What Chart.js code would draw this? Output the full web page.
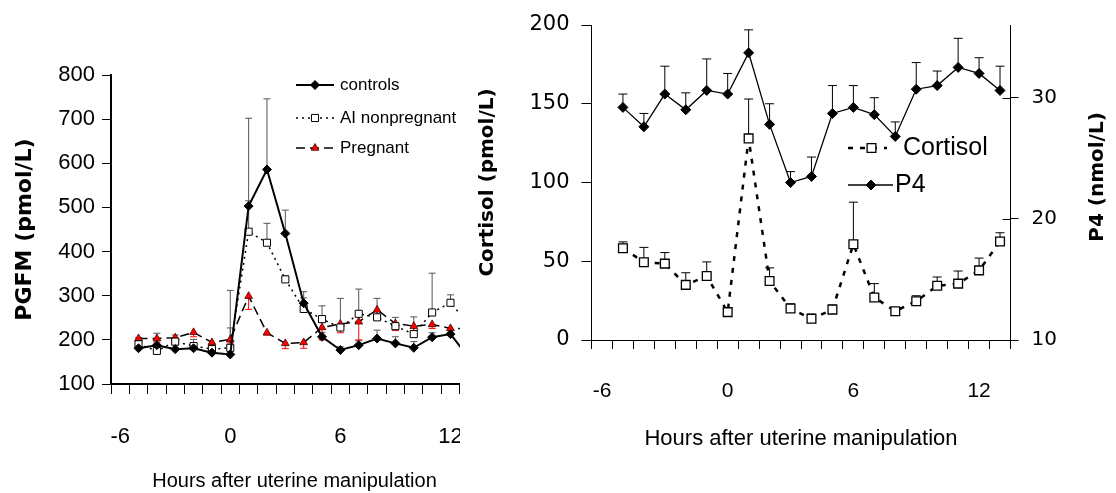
<!DOCTYPE html>
<html><head><meta charset="utf-8">
<script src="https://cdn.jsdelivr.net/npm/chart.js@4/dist/chart.umd.min.js"></script>
<style>
html,body{margin:0;padding:0;background:#fff;width:1116px;height:493px;overflow:hidden;}
#leftWrap{position:absolute;left:0;top:0;width:460px;height:493px;overflow:hidden;}
#leftWrap canvas{position:absolute;left:0;top:0;}
#right{position:absolute;left:460px;top:0;}
</style></head><body>
<div id="leftWrap"><canvas id="left" width="520" height="493"></canvas></div>
<canvas id="right" width="656" height="493"></canvas>
<script>
// ---- shared x categories (hours after uterine manipulation) ----
const hours = [-6,-5,-4,-3,-2,-1,0,1,2,3,4,5,6,7,8,9,10,11,12,13];
const xTickLabels = [-6,0,6,12];

// ---- left panel: PGFM (pmol/L) ----
const pgfmYTicks = [100,200,300,400,500,600,700,800];
const pgfmControls   = [null,181,188,179,181,171,167,503,586,441,283,207,177,188,203,192,182,206,213,160];
const pgfmControlsSE = [null,8,15,10,12,8,60,199,160,53,26,10,7,10,19,15,14,10,10,10];
const pgfmAI         = [null,190,175,196,186,179,182,445,420,337,270,247,228,259,251,231,213,262,284,235];
const pgfmAISE       = [null,15,40,15,15,12,130,70,44,8,25,30,66,56,43,20,39,89,18,10];
const pgfmPregnant   = [null,203,203,205,217,194,201,299,216,192,194,228,236,241,268,237,231,235,226,225];
const pgfmPregnantSE = [null,8,8,8,10,8,8,30,5,12,13,28,20,41,15,16,10,9,12,8];

// ---- right panel: Cortisol (pmol/L) and P4 (nmol/L) ----
const cortisolYTicks = [0,50,100,150,200];
const p4YTicks = [10,20,30];
const cortisol   = [null,58.3,49.4,48.5,35,40.6,17.7,128,37.5,20,13.5,19.3,60.8,27,18.3,24.6,34.4,35.8,44.2,62.5];
const cortisolSE = [null,4,9.4,7,7.7,9,2,25,8.3,3,3,3,26.7,8.8,1,3.5,5.6,8,7.8,5.6];
const p4   = [null,29.2,27.6,30.3,29.0,30.6,30.3,33.7,27.8,23.0,23.5,28.7,29.2,28.6,26.8,30.7,31.0,32.5,32.0,30.6];
const p4SE = [null,1.1,1.1,2.3,1.4,2.6,1.7,1.9,1.7,0.9,1.6,2.3,1.8,1.4,1.2,2.2,1.2,2.4,1.3,2.0];

Chart.defaults.color = '#000';
Chart.defaults.font.family = '"Liberation Sans", Arial, sans-serif';

const errorBarPlugin = {
  id: 'errorBars',
  beforeDatasetsDraw(chart) {
    const ctx = chart.ctx;
    chart.data.datasets.forEach((ds, di) => {
      if (!ds.errors) return;
      const meta = chart.getDatasetMeta(di);
      const yScale = chart.scales[meta.yAxisID];
      const cfg = ds.errorStyle;
      ctx.save();
      ctx.strokeStyle = cfg.color; ctx.lineWidth = cfg.width; ctx.setLineDash([]);
      ds.data.forEach((v, i) => {
        const e = ds.errors[i];
        if (v == null || e == null) return;
        const x = meta.data[i].x;
        const y0 = yScale.getPixelForValue(v);
        const y1 = yScale.getPixelForValue(v + cfg.dir * e);
        ctx.beginPath();
        ctx.moveTo(x, y0); ctx.lineTo(x, y1);
        ctx.moveTo(x - cfg.cap, y1); ctx.lineTo(x + cfg.cap, y1);
        ctx.stroke();
      });
      ctx.restore();
    });
  }
};

const lineLegendPlugin = {
  id: 'lineLegend',
  afterDatasetsDraw(chart, args, opts) {
    const ctx = chart.ctx;
    (opts.items || []).forEach(it => {
      const ds = chart.data.datasets[it.dataset];
      ctx.save();
      ctx.strokeStyle = ds.borderColor; ctx.lineWidth = ds.borderWidth;
      ctx.setLineDash(ds.borderDash || []);
      ctx.beginPath(); ctx.moveTo(it.x1, it.y); ctx.lineTo(it.x2, it.y); ctx.stroke();
      ctx.setLineDash([]);
      ctx.fillStyle = ds.pointBackgroundColor; ctx.strokeStyle = ds.pointBorderColor; ctx.lineWidth = ds.pointBorderWidth;
      Chart.helpers.drawPoint(ctx, {pointStyle: ds.pointStyle, radius: ds.pointRadius, rotation: 0, borderWidth: ds.pointBorderWidth}, it.mx, it.y);
      ctx.fillStyle = '#000'; ctx.font = opts.font; ctx.textBaseline = 'middle'; ctx.textAlign = 'left';
      ctx.fillText(ds.label, it.tx, it.y);
      ctx.restore();
    });
  }
};

const rightAxisExtras = {
  id: 'rightAxisExtras',
  afterDraw(chart, args, opts) {
    const ctx = chart.ctx;
    const s = chart.scales.y2;
    ctx.save();
    ctx.strokeStyle = '#000'; ctx.lineWidth = 1;
    s.ticks.forEach(t => {
      const y = Math.round(s.getPixelForValue(t.value)) + 0.5;
      ctx.beginPath(); ctx.moveTo(s.left - 8, y); ctx.lineTo(s.left, y); ctx.stroke();
    });
    ctx.translate(opts.x, opts.y);
    ctx.rotate(-Math.PI / 2);
    ctx.font = 'bold 20px "DejaVu Sans", sans-serif';
    ctx.fillStyle = '#000'; ctx.textAlign = 'center'; ctx.textBaseline = 'middle';
    ctx.fillText(opts.text, 0, 0);
    ctx.restore();
  }
};

const xTickCallback = function(val, idx) {
  return xTickLabels.includes(hours[idx]) ? String(hours[idx]) : '';
};

// ---------------- LEFT CHART ----------------
new Chart(document.getElementById('left'), {
  type: 'line',
  data: {
    labels: hours.map(String),
    datasets: [
      { label: 'controls', data: pgfmControls, errors: pgfmControlsSE,
        errorStyle: {color: '#555', width: 1, cap: 3.5, dir: 1},
        borderColor: '#000', borderWidth: 2, tension: 0,
        pointStyle: 'rectRot', pointRadius: 4.5, pointBackgroundColor: '#000', pointBorderColor: '#000', pointBorderWidth: 1 },
      { label: 'AI nonpregnant', data: pgfmAI, errors: pgfmAISE,
        errorStyle: {color: '#555', width: 1, cap: 3.5, dir: 1},
        borderColor: '#000', borderWidth: 1.5, borderDash: [2,4], tension: 0,
        pointStyle: 'rect', pointRadius: 5, pointBackgroundColor: '#fff', pointBorderColor: '#000', pointBorderWidth: 1 },
      { label: 'Pregnant', data: pgfmPregnant, errors: pgfmPregnantSE,
        errorStyle: {color: '#ff0000', width: 1, cap: 3.5, dir: -1},
        borderColor: '#000', borderWidth: 1.5, borderDash: [9,5], tension: 0,
        pointStyle: 'triangle', pointRadius: 4.5, pointBackgroundColor: '#ff0000', pointBorderColor: '#400', pointBorderWidth: 0.8 }
    ]
  },
  options: {
    responsive: false, animation: false, devicePixelRatio: 1,
    layout: {padding: {top: 75, right: 42, left: 0, bottom: 0}},
    plugins: {
      legend: {display: false}, tooltip: {enabled: false},
      lineLegend: {font: '17px "Liberation Sans", sans-serif', items: [
        {dataset: 0, x1: 296, x2: 334, mx: 315, y: 85, tx: 340},
        {dataset: 1, x1: 296, x2: 334, mx: 315, y: 118, tx: 340},
        {dataset: 2, x1: 296, x2: 334, mx: 315, y: 148, tx: 340}
      ]}
    },
    scales: {
      x: {
        type: 'category', offset: true,
        grid: {offset: true, drawOnChartArea: false, drawTicks: true, tickLength: 10, color: '#000', lineWidth: 1},
        border: {color: '#000', width: 2},
        ticks: {autoSkip: false, maxRotation: 0, minRotation: 0, padding: 30, font: {size: 22}, callback: xTickCallback},
        title: {display: true, text: 'Hours after uterine manipulation', font: {size: 20}, padding: {top: 0, bottom: 0}},
        afterFit: s => { s.height = 109; }
      },
      y: {
        min: 100, max: 800,
        afterBuildTicks: s => { s.ticks = pgfmYTicks.map(v => ({value: v})); },
        grid: {drawOnChartArea: false, tickLength: 9, color: '#000'},
        border: {color: '#000', width: 2},
        ticks: {padding: 7, font: {size: 22}},
        title: {display: true, text: 'PGFM (pmol/L)', font: {size: 22, weight: 'bold', family: '"DejaVu Sans", sans-serif'}, padding: {top: 12, bottom: 0}},
        afterFit: s => { s.width = 111; }
      }
    }
  },
  plugins: [errorBarPlugin, lineLegendPlugin]
});

// ---------------- RIGHT CHART ----------------
new Chart(document.getElementById('right'), {
  type: 'line',
  data: {
    labels: hours.map(String),
    datasets: [
      { label: 'Cortisol', data: cortisol, errors: cortisolSE, yAxisID: 'y',
        errorStyle: {color: '#000', width: 1, cap: 4.5, dir: 1},
        borderColor: '#000', borderWidth: 2.5, borderDash: [5,7], tension: 0,
        pointStyle: 'rect', pointRadius: 6.2, pointBackgroundColor: '#fff', pointBorderColor: '#000', pointBorderWidth: 1.3 },
      { label: 'P4', data: p4, errors: p4SE, yAxisID: 'y2',
        errorStyle: {color: '#000', width: 1, cap: 4.5, dir: 1},
        borderColor: '#000', borderWidth: 1.3, tension: 0,
        pointStyle: 'rectRot', pointRadius: 5, pointBackgroundColor: '#000', pointBorderColor: '#000', pointBorderWidth: 1 }
    ]
  },
  options: {
    responsive: false, animation: false, devicePixelRatio: 1,
    layout: {padding: {top: 20, right: 0, left: 0, bottom: 0}},
    plugins: {
      legend: {display: false}, tooltip: {enabled: false},
      lineLegend: {font: '25px "Liberation Sans", sans-serif', items: [
        {dataset: 0, x1: 388, x2: 427, mx: 411.5, y: 148, tx: 443},
        {dataset: 1, x1: 388, x2: 433, mx: 411, y: 185, tx: 435}
      ]},
      rightAxisExtras: {x: 638, y: 177, text: 'P4 (nmol/L)'}
    },
    scales: {
      x: {
        type: 'category', offset: true,
        grid: {offset: true, drawOnChartArea: false, drawTicks: true, tickLength: 9, color: '#000', lineWidth: 1},
        border: {color: '#000', width: 1},
        ticks: {autoSkip: false, maxRotation: 0, minRotation: 0, padding: 30, font: {size: 21}, callback: xTickCallback},
        title: {display: true, text: 'Hours after uterine manipulation', font: {size: 22}, padding: {top: 0, bottom: 41}},
        afterFit: s => { s.height = 153; }
      },
      y: {
        position: 'left', min: 0, max: 200,
        afterBuildTicks: s => { s.ticks = cortisolYTicks.map(v => ({value: v})); },
        grid: {drawOnChartArea: false, tickLength: 10, color: '#000'},
        border: {color: '#000', width: 1},
        ticks: {padding: 12, font: {size: 21, family: '"DejaVu Sans", sans-serif'}},
        title: {display: true, text: 'Cortisol (pmol/L)', font: {size: 20, weight: 'bold', family: '"DejaVu Sans", sans-serif'}, padding: {top: 16, bottom: 0}},
        afterFit: s => { s.width = 131.5; }
      },
      y2: {
        position: 'right', min: 10, max: 36,
        afterBuildTicks: s => { s.ticks = p4YTicks.map(v => ({value: v})); },
        grid: {drawOnChartArea: false, tickLength: 8, color: '#000'},
        border: {color: '#000', width: 1},
        ticks: {padding: 13, font: {size: 20, family: '"DejaVu Sans", sans-serif'}},
        afterFit: s => { s.width = 105.5; }
      }
    }
  },
  plugins: [errorBarPlugin, lineLegendPlugin, rightAxisExtras]
});
</script>
</body></html>
